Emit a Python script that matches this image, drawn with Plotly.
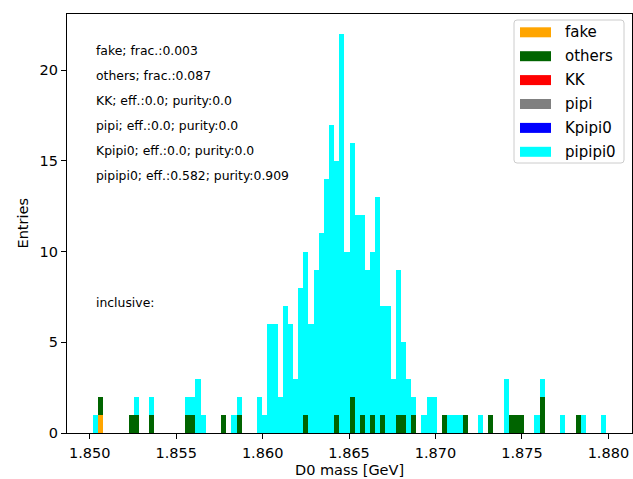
import numpy as np
import plotly.graph_objects as go

# Histogram binning: 100 equal bins spanning the selected D0 candidates
X_MIN = 1.85017
X_MAX = 1.87988
N_BINS = 100

categories = ["fake", "others", "KK", "pipi", "Kpipi0", "pipipi0"]
colors = ["orange", "darkgreen", "red", "gray", "blue", "cyan"]

# Entries per bin for every truth category (stacked in this order)
fake = [
    0, 1, 0, 0, 0, 0, 0, 0, 0, 0, 0, 0, 0, 0, 0, 0, 0, 0, 0, 0,
    0, 0, 0, 0, 0, 0, 0, 0, 0, 0, 0, 0, 0, 0, 0, 0, 0, 0, 0, 0,
    0, 0, 0, 0, 0, 0, 0, 0, 0, 0, 0, 0, 0, 0, 0, 0, 0, 0, 0, 0,
    0, 0, 0, 0, 0, 0, 0, 0, 0, 0, 0, 0, 0, 0, 0, 0, 0, 0, 0, 0,
    0, 0, 0, 0, 0, 0, 0, 0, 0, 0, 0, 0, 0, 0, 0, 0, 0, 0, 0, 0,
]
others = [
    0, 1, 0, 0, 0, 0, 0, 1, 1, 0, 0, 1, 0, 0, 0, 0, 0, 0, 1, 1,
    0, 0, 0, 0, 0, 1, 0, 0, 1, 0, 0, 0, 0, 0, 0, 0, 0, 0, 0, 0,
    0, 1, 0, 0, 0, 0, 0, 1, 0, 0, 2, 0, 1, 0, 1, 0, 1, 0, 0, 1,
    1, 0, 1, 0, 0, 0, 0, 0, 1, 0, 0, 0, 1, 0, 0, 0, 0, 1, 0, 0,
    0, 1, 1, 1, 0, 0, 0, 2, 0, 0, 0, 0, 0, 0, 1, 0, 0, 0, 0, 0,
]
KK = [
    0, 0, 0, 0, 0, 0, 0, 0, 0, 0, 0, 0, 0, 0, 0, 0, 0, 0, 0, 0,
    0, 0, 0, 0, 0, 0, 0, 0, 0, 0, 0, 0, 0, 0, 0, 0, 0, 0, 0, 0,
    0, 0, 0, 0, 0, 0, 0, 0, 0, 0, 0, 0, 0, 0, 0, 0, 0, 0, 0, 0,
    0, 0, 0, 0, 0, 0, 0, 0, 0, 0, 0, 0, 0, 0, 0, 0, 0, 0, 0, 0,
    0, 0, 0, 0, 0, 0, 0, 0, 0, 0, 0, 0, 0, 0, 0, 0, 0, 0, 0, 0,
]
pipi = [
    0, 0, 0, 0, 0, 0, 0, 0, 0, 0, 0, 0, 0, 0, 0, 0, 0, 0, 0, 0,
    0, 0, 0, 0, 0, 0, 0, 0, 0, 0, 0, 0, 0, 0, 0, 0, 0, 0, 0, 0,
    0, 0, 0, 0, 0, 0, 0, 0, 0, 0, 0, 0, 0, 0, 0, 0, 0, 0, 0, 0,
    0, 0, 0, 0, 0, 0, 0, 0, 0, 0, 0, 0, 0, 0, 0, 0, 0, 0, 0, 0,
    0, 0, 0, 0, 0, 0, 0, 0, 0, 0, 0, 0, 0, 0, 0, 0, 0, 0, 0, 0,
]
Kpipi0 = [
    0, 0, 0, 0, 0, 0, 0, 0, 0, 0, 0, 0, 0, 0, 0, 0, 0, 0, 0, 0,
    0, 0, 0, 0, 0, 0, 0, 0, 0, 0, 0, 0, 0, 0, 0, 0, 0, 0, 0, 0,
    0, 0, 0, 0, 0, 0, 0, 0, 0, 0, 0, 0, 0, 0, 0, 0, 0, 0, 0, 0,
    0, 0, 0, 0, 0, 0, 0, 0, 0, 0, 0, 0, 0, 0, 0, 0, 0, 0, 0, 0,
    0, 0, 0, 0, 0, 0, 0, 0, 0, 0, 0, 0, 0, 0, 0, 0, 0, 0, 0, 0,
]
pipipi0 = [
    1, 0, 0, 0, 0, 0, 0, 0, 1, 0, 0, 1, 0, 0, 0, 0, 0, 0, 1, 1,
    3, 1, 0, 0, 0, 0, 0, 1, 1, 0, 0, 0, 2, 1, 6, 6, 2, 7, 6, 3,
    8, 9, 6, 9, 11, 14, 17, 14, 22, 10, 14, 12, 11, 9, 9, 13, 6, 7, 3, 8,
    4, 3, 1, 0, 1, 2, 2, 0, 0, 1, 1, 1, 0, 0, 0, 1, 0, 0, 0, 0,
    3, 0, 0, 0, 0, 0, 1, 1, 0, 0, 0, 1, 0, 0, 0, 1, 0, 0, 0, 1,
]
counts = [fake, others, KK, pipi, Kpipi0, pipipi0]

summary_lines = [
    "fake; frac.:0.003",
    "others; frac.:0.087",
    "KK; eff.:0.0; purity:0.0",
    "pipi; eff.:0.0; purity:0.0",
    "Kpipi0; eff.:0.0; purity:0.0",
    "pipipi0; eff.:0.582; purity:0.909",
]
selection_label = "inclusive:"

x_ticks = [1.850, 1.855, 1.860, 1.865, 1.870, 1.875, 1.880]
y_ticks = [0, 5, 10, 15, 20]

# ---- geometry -------------------------------------------------------------
W, H = 633, 479
ML, MR, MT, MB = 67, 1, 14, 46
PW, PH = W - ML - MR, H - MT - MB


def px_x(px):
    return (px - ML) / PW


def px_y(py):
    return (H - MB - py) / PH


FONT = "DejaVu Sans"
LABEL_SIZE = 14.5

edges = np.linspace(X_MIN, X_MAX, N_BINS + 1)
centers = 0.5 * (edges[:-1] + edges[1:])
bin_w = edges[1] - edges[0]
span = X_MAX - X_MIN
x_range = [X_MIN - 0.05 * span, X_MAX + 0.05 * span]
totals = np.sum(np.array(counts), axis=0)
y_range = [0, 1.05 * totals.max()]

fig = go.Figure()
for name, col, vals in zip(categories, colors, counts):
    fig.add_trace(go.Bar(
        x=centers, y=vals, width=bin_w, name=name,
        marker=dict(color=col, line=dict(width=0)),
        showlegend=False,
    ))

axis_common = dict(
    showline=True, linecolor="black", linewidth=1.2, mirror=True,
    ticks="outside", ticklen=5, tickwidth=1.2, tickcolor="black",
    showgrid=False, zeroline=False,
    tickfont=dict(family=FONT, size=LABEL_SIZE, color="black"),
)

fig.update_layout(
    width=W, height=H,
    margin=dict(l=ML, r=MR, t=MT, b=MB),
    paper_bgcolor="white", plot_bgcolor="white",
    barmode="stack", bargap=0,
    showlegend=False,
    xaxis=dict(range=x_range, tickvals=x_ticks, tickformat=".3f",
               ticklabelstandoff=1, **axis_common),
    yaxis=dict(range=y_range, tickvals=y_ticks, **axis_common),
)

annotations = []
# axis titles
annotations.append(dict(
    text="D0 mass [GeV]", xref="paper", yref="paper",
    x=0.5, y=px_y(469.5), xanchor="center", yanchor="middle", borderpad=0,
    showarrow=False, font=dict(family=FONT, size=LABEL_SIZE, color="black"),
))
annotations.append(dict(
    text="Entries", xref="paper", yref="paper", textangle=-90,
    x=px_x(22), y=0.5, xanchor="center", yanchor="middle", showarrow=False,
    font=dict(family=FONT, size=LABEL_SIZE, color="black"),
))
# per-category summary block
for k, line in enumerate(summary_lines):
    annotations.append(dict(
        text=line, xref="paper", yref="paper",
        x=px_x(94), y=px_y(50 + 25.1 * k), xanchor="left", yanchor="middle",
        showarrow=False, font=dict(family=FONT, size=12.4, color="black"),
    ))
annotations.append(dict(
    text=selection_label, xref="paper", yref="paper",
    x=px_x(94), y=px_y(302), xanchor="left", yanchor="middle",
    showarrow=False, font=dict(family=FONT, size=12.4, color="black"),
))

# legend drawn as a framed box with wide colour patches
shapes = []
bx0, bx1, by0, by1 = 514, 624, 20, 163
r = 3
path = (
    f"M {px_x(bx0 + r)},{px_y(by0)} L {px_x(bx1 - r)},{px_y(by0)} "
    f"Q {px_x(bx1)},{px_y(by0)} {px_x(bx1)},{px_y(by0 + r)} "
    f"L {px_x(bx1)},{px_y(by1 - r)} Q {px_x(bx1)},{px_y(by1)} {px_x(bx1 - r)},{px_y(by1)} "
    f"L {px_x(bx0 + r)},{px_y(by1)} Q {px_x(bx0)},{px_y(by1)} {px_x(bx0)},{px_y(by1 - r)} "
    f"L {px_x(bx0)},{px_y(by0 + r)} Q {px_x(bx0)},{px_y(by0)} {px_x(bx0 + r)},{px_y(by0)} Z"
)
shapes.append(dict(
    type="path", path=path, xref="paper", yref="paper",
    line=dict(color="#cccccc", width=1), fillcolor="rgba(255,255,255,0.8)",
    layer="above",
))
for k, (name, col) in enumerate(zip(categories, colors)):
    cy = 32.3 + 23.9 * k
    shapes.append(dict(
        type="rect", xref="paper", yref="paper",
        x0=px_x(520), x1=px_x(551), y0=px_y(cy + 5), y1=px_y(cy - 5),
        line=dict(width=0), fillcolor=col, layer="above",
    ))
    annotations.append(dict(
        text=name, xref="paper", yref="paper",
        x=px_x(563), y=px_y(cy), xanchor="left", yanchor="middle",
        showarrow=False, font=dict(family=FONT, size=15, color="black"),
    ))

fig.update_layout(annotations=annotations, shapes=shapes)
fig.write_html("out.html")
